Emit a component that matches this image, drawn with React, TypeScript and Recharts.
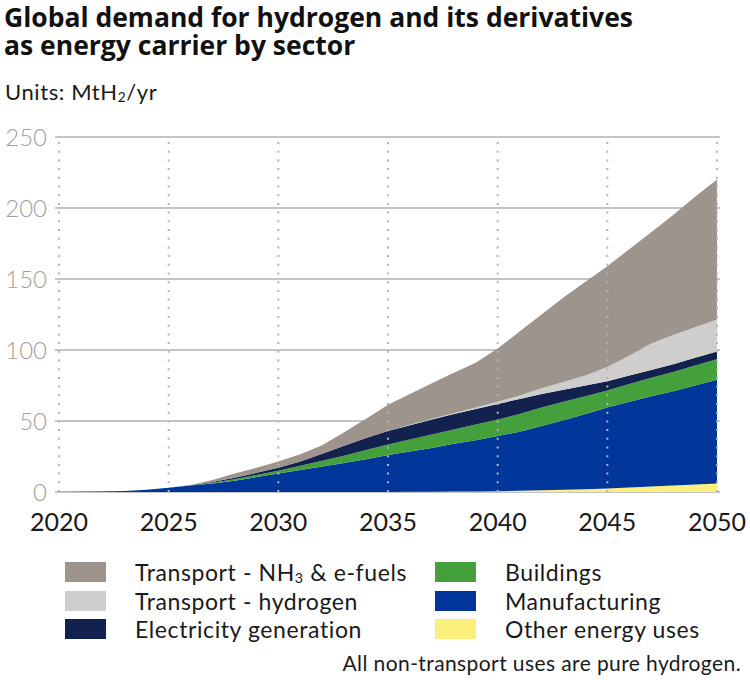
import React from 'react';
import { AreaChart, Area, XAxis, YAxis, CartesianGrid, ReferenceLine } from 'recharts';

const years = [
  2020, 2021, 2022, 2023, 2024, 2025, 2026, 2027, 2028, 2029, 2030, 2031, 2032, 2033, 2034, 2035,
  2036, 2037, 2038, 2039, 2040, 2041, 2042, 2043, 2044, 2045, 2046, 2047, 2048, 2049, 2050,
];

// MtH2/yr per sector (stacked, bottom to top)
const otherUses = [
  0, 0, 0, 0, 0, 0, 0, 0, 0, 0, 0, 0, 0, 0, 0, 0,
  0.1, 0.2, 0.3, 0.4, 0.5, 0.8, 1.2, 1.6, 2, 2.4, 3.1, 3.8, 4.5, 5.2, 6,
];
const manufacturing = [
  0, 0.1, 0.3, 0.7, 1.5, 3, 4.5, 6, 8, 10.5, 13, 15.5, 18, 20.5, 23, 26,
  28.4, 30.8, 33.7, 36.1, 39, 41.7, 45.3, 48.9, 53, 57.1, 60.4, 63.7, 66.5, 69.8, 73,
];
const buildings = [
  0, 0, 0, 0, 0, 0, 0.1, 0.5, 1, 1.5, 2, 3, 4, 5, 6.5, 7.5,
  8.5, 9.5, 10, 11, 11.5, 12.5, 13, 13, 12.5, 12, 12.5, 13, 13.5, 14, 14.5,
];
const electricity = [
  0, 0, 0, 0, 0, 0, 0.1, 0.5, 1, 1.5, 2, 3, 5, 7, 8.5, 9.5,
  10, 10.5, 11, 11, 11, 10.5, 9.5, 8.5, 7.5, 6.5, 6, 5.5, 5.5, 5.5, 5.5,
];
const transportH2 = [
  0, 0, 0, 0, 0, 0, 0, 0, 0, 0, 0, 0, 0, 0, 0, 0,
  0.3, 0.5, 0.5, 1, 1.5, 2.5, 4, 5.5, 7, 10, 14, 18.5, 20.5, 21.5, 22.5,
];
const transportNH3 = [
  0, 0, 0, 0, 0, 0, 0.3, 1.5, 3, 3.5, 4.5, 5, 6, 9.5, 13.5, 18.5,
  21.7, 25, 28.5, 31.5, 37.5, 45, 52, 59.5, 66, 71, 75, 78.5, 84.5, 92, 98.5,
];

const xTicks = [2020, 2025, 2030, 2035, 2040, 2045, 2050];
const yTicks = [0, 50, 100, 150, 200, 250];

const series = [
  { key: 'other', label: 'Other energy uses', color: '#fcf07c' },
  { key: 'manufacturing', label: 'Manufacturing', color: '#00369a' },
  { key: 'buildings', label: 'Buildings', color: '#43a03b' },
  { key: 'electricity', label: 'Electricity generation', color: '#13214f' },
  { key: 'transportH2', label: 'Transport - hydrogen', color: '#d0cecc' },
  { key: 'transportNH3', label: 'Transport - NH3 & e-fuels', color: '#9c948d' },
];

const data = years.map((year, i) => ({
  year,
  other: otherUses[i],
  manufacturing: manufacturing[i],
  buildings: buildings[i],
  electricity: electricity[i],
  transportH2: transportH2[i],
  transportNH3: transportNH3[i],
}));

const FONT = 'Lato, "Open Sans", sans-serif';
const TITLE_FONT = '"Open Sans", Lato, sans-serif';

const subStyle = { fontSize: '0.62em', verticalAlign: -2, lineHeight: 0 };

const legendLeft = [
  { color: '#9c948d', text: <>Transport - NH<span style={subStyle}>3</span> &amp; e-fuels</> },
  { color: '#d0cecc', text: <>Transport - hydrogen</> },
  { color: '#13214f', text: <>Electricity generation</> },
];
const legendRight = [
  { color: '#43a03b', text: <>Buildings</> },
  { color: '#00369a', text: <>Manufacturing</> },
  { color: '#fcf07c', text: <>Other energy uses</> },
];

const LegendCol = ({ items, left }: { items: typeof legendLeft; left: number }) => (
  <div style={{ position: 'absolute', left, top: 558 }}>
    {items.map((it, i) => (
      <div key={i} style={{ display: 'flex', alignItems: 'center', height: 28.5 }}>
        <div style={{ width: 41, height: 20, background: it.color, marginRight: 29, flexShrink: 0 }} />
        <span style={{ fontSize: 23, letterSpacing: 0.6, color: '#1a1a1a', lineHeight: '26px', whiteSpace: 'nowrap' }}>
          {it.text}
        </span>
      </div>
    ))}
  </div>
);

export default function App() {
  return (
    <div style={{ position: 'absolute', left: 0, top: 0, width: 750, height: 680, background: '#fff', fontFamily: FONT }}>
      <div
        style={{
          position: 'absolute',
          left: 4,
          top: 3,
          width: 650,
          fontFamily: TITLE_FONT,
          fontSize: 26.5,
          fontWeight: 700,
          lineHeight: '28px',
          color: '#111',
        }}
      >
        Global demand for hydrogen and its derivatives as energy carrier by sector
      </div>
      <div style={{ position: 'absolute', left: 5, top: 77, fontSize: 22, letterSpacing: 0.6, lineHeight: '30px', color: '#1a1a1a', whiteSpace: 'nowrap' }}>
        Units: MtH<span style={subStyle}>2</span>/yr
      </div>
      <div style={{ position: 'absolute', left: 0, top: 0 }}>
        <AreaChart width={750} height={540} data={data} margin={{ top: 137, right: 30, bottom: 8, left: 0 }}>
          <CartesianGrid vertical={false} stroke="#b0b0b0" strokeWidth={1.5} />
          <XAxis
            dataKey="year"
            type="number"
            domain={[2020, 2050]}
            ticks={xTicks}
            padding={{ left: 4, right: 3 }}
            axisLine={false}
            tickLine={false}
            tickSize={0}
            tickMargin={21}
            height={40}
            tick={{ fontSize: 25, fill: '#1a1a1a', fontFamily: FONT }}
          />
          <YAxis
            domain={[0, 250]}
            ticks={yTicks}
            axisLine={false}
            tickLine={false}
            tickSize={0}
            tickMargin={8}
            width={55}
            tick={{ fontSize: 24, fill: '#a0a0a0', fontFamily: FONT, fontWeight: 300 }}
          />
          {series.map((s) => (
            <Area
              key={s.key}
              type="linear"
              dataKey={s.key}
              stackId="1"
              stroke="none"
              fill={s.color}
              fillOpacity={1}
              isAnimationActive={false}
            />
          ))}
          {xTicks.map((t) => (
            <ReferenceLine key={t} x={t} stroke="#b4b4b4" strokeWidth={2} strokeDasharray="2 6.7" />
          ))}
        </AreaChart>
      </div>
      <LegendCol items={legendLeft} left={65} />
      <LegendCol items={legendRight} left={435} />
      <div style={{ position: 'absolute', right: 9, top: 650, fontSize: 21, letterSpacing: 0.4, lineHeight: '26px', color: '#1a1a1a', whiteSpace: 'nowrap' }}>
        All non-transport uses are pure hydrogen.
      </div>
    </div>
  );
}
